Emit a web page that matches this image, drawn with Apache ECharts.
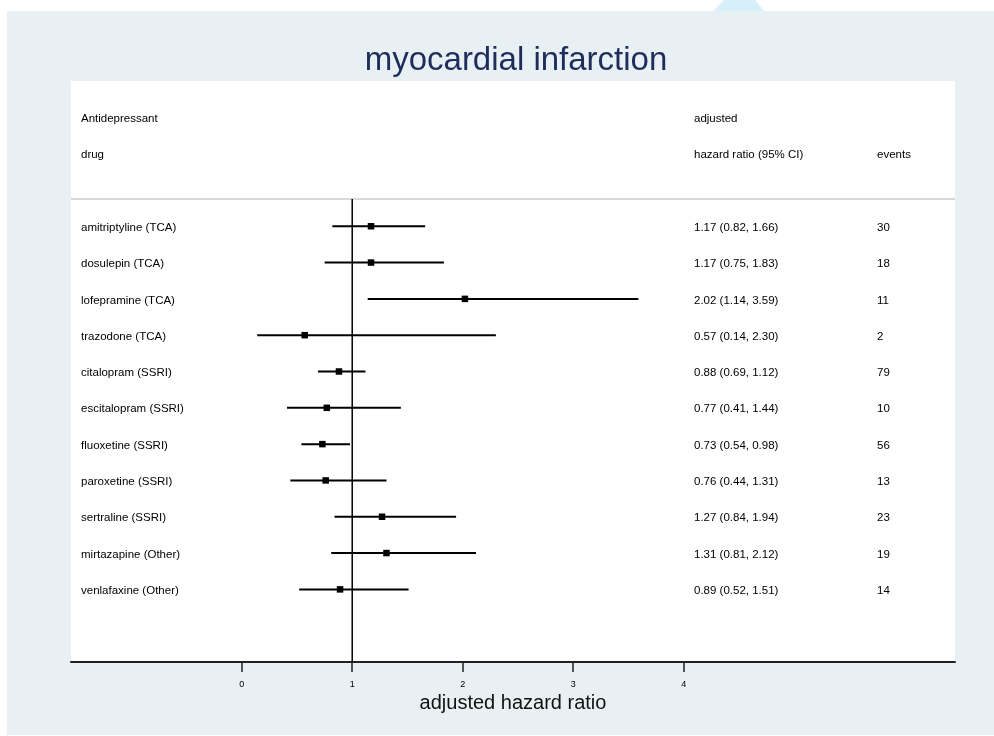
<!DOCTYPE html>
<html>
<head>
<meta charset="utf-8">
<script src="https://cdn.jsdelivr.net/npm/echarts@6/dist/echarts.min.js"></script>
<style>
  html, body { margin: 0; padding: 0; background: #fff; }
  #chart { width: 994px; height: 736px; }
</style>
</head>
<body>
<div id="chart"></div>
<script>
  // rows, top to bottom
  const drugs = [
    'amitriptyline (TCA)', 'dosulepin (TCA)', 'lofepramine (TCA)', 'trazodone (TCA)',
    'citalopram (SSRI)', 'escitalopram (SSRI)', 'fluoxetine (SSRI)', 'paroxetine (SSRI)',
    'sertraline (SSRI)', 'mirtazapine (Other)', 'venlafaxine (Other)'
  ]
  const hr = [1.17, 1.17, 2.02, 0.57, 0.88, 0.77, 0.73, 0.76, 1.27, 1.31, 0.89]
  const lo = [0.82, 0.75, 1.14, 0.14, 0.69, 0.41, 0.54, 0.44, 0.84, 0.81, 0.52]
  const hi = [1.66, 1.83, 3.59, 2.30, 1.12, 1.44, 0.98, 1.31, 1.94, 2.12, 1.51]
  const events = [30, 18, 11, 2, 79, 10, 56, 13, 23, 19, 14]
  const xTicks = [0, 1, 2, 3, 4]
  const headLine1 = ['Antidepressant', 'adjusted', '']
  const headLine2 = ['drug', 'hazard ratio (95% CI)', 'events']

  const xMin = -1.545, xMax = 6.455
  const colX = [81, 694, 877]   // text columns, pixels
  const font = 'Liberation Sans, Arial, Helvetica, sans-serif'

  let chart = echarts.init(document.getElementById('chart'))

  const ciData = drugs.map((d, i) => [hr[i], i, lo[i], hi[i]])
  const rowText = drugs.map((d, i) => [
    d, hr[i].toFixed(2) + ' (' + lo[i].toFixed(2) + ', ' + hi[i].toFixed(2) + ')', String(events[i])
  ])
  const tableData = [[-3, 0], [-2, 1]].concat(drugs.map((d, i) => [i, i + 2]))
  const tableLines = [headLine1, headLine2].concat(rowText)

  const option = {
    animation: false,
    backgroundColor: '#fff',
    title: {
      text: 'myocardial infarction',
      left: 511,
      top: 39,
      textAlign: 'center',
      textStyle: { color: '#1f2d5c', fontSize: 33, fontWeight: 'normal', fontFamily: font }
    },
    graphic: [
      { type: 'polygon', z: -20, shape: { points: [[714, 11], [724, 0], [755, 0], [764, 11]] }, style: { fill: '#d6effb' } },
      { type: 'rect', z: -10, shape: { x: 7, y: 11, width: 987, height: 724 }, style: { fill: '#e8f0f3' } }
    ],
    grid: {
      left: 71, right: 39, top: 81, bottom: 74,
      show: true, backgroundColor: '#fff', borderWidth: 0
    },
    xAxis: {
      type: 'value',
      min: xMin,
      max: xMax,
      name: 'adjusted hazard ratio',
      nameLocation: 'middle',
      nameGap: 30,
      nameTextStyle: { color: '#111', fontSize: 20, fontFamily: font },
      splitLine: { show: false },
      axisLine: { show: true, onZero: false, lineStyle: { color: '#222', width: 2 } },
      axisTick: { show: true, customValues: xTicks, length: 10, lineStyle: { color: '#222', width: 1.5 } },
      axisLabel: { customValues: xTicks, fontSize: 9, color: '#000', margin: 18, fontFamily: font }
    },
    yAxis: {
      type: 'value',
      inverse: true,
      min: -4,
      max: 12,
      show: false
    },
    series: [
      {
        // header separator
        type: 'line',
        data: [[xMin, -0.75], [xMax, -0.75]],
        symbol: 'none',
        lineStyle: { color: '#cccccc', width: 1.5 },
        silent: true
      },
      {
        // null line at 1
        type: 'line',
        data: [[1, -0.75], [1, 12]],
        symbol: 'none',
        lineStyle: { color: '#000', width: 1.5 },
        silent: true
      },
      {
        type: 'custom',
        data: ciData,
        encode: { x: [0, 2, 3], y: 1 },
        renderItem: function (params, api) {
          const c = api.coord([api.value(0), api.value(1)])
          const l = api.coord([api.value(2), api.value(1)])
          const h = api.coord([api.value(3), api.value(1)])
          return {
            type: 'group',
            children: [
              { type: 'line', shape: { x1: l[0], y1: c[1], x2: h[0], y2: c[1] }, style: { stroke: '#000', lineWidth: 2 } },
              { type: 'rect', shape: { x: c[0] - 3.25, y: c[1] - 3.25, width: 6.5, height: 6.5 }, style: { fill: '#000' } }
            ]
          }
        },
        z: 5
      },
      {
        // table text
        type: 'custom',
        data: tableData,
        encode: { y: 0 },
        renderItem: function (params, api) {
          const y = api.coord([0, api.value(0)])[1] + 1.5
          const cols = tableLines[api.value(1)]
          return {
            type: 'group',
            children: cols.map((t, k) => ({
              type: 'text',
              style: {
                text: t, x: colX[k], y: y,
                fill: '#000', fontSize: 11.5, fontFamily: font,
                align: 'left', verticalAlign: 'middle'
              }
            }))
          }
        },
        silent: true
      }
    ]
  }

  chart.setOption(option)
</script>
</body>
</html>
